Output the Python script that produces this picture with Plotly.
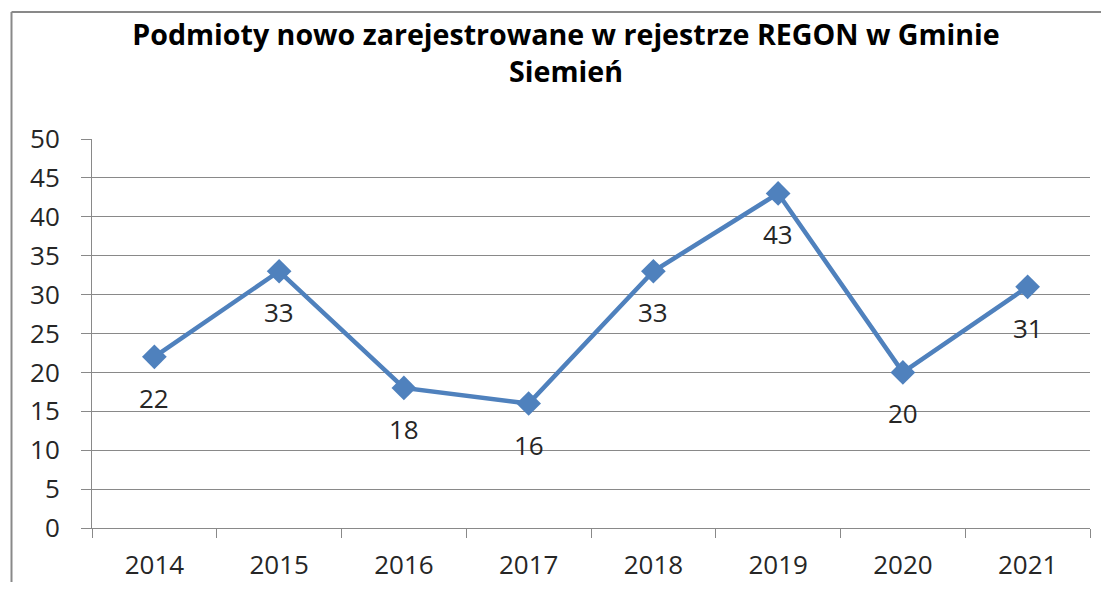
import plotly.graph_objects as go

years = ["2014", "2015", "2016", "2017", "2018", "2019", "2020", "2021"]
values = [22, 33, 18, 16, 33, 43, 20, 31]
y_ticks = [0, 5, 10, 15, 20, 25, 30, 35, 40, 45, 50]

BLUE = "#4F81BD"
GRAY = "#898989"
FONT = "Open Sans"
TXT = "#262626"

# page body has an 8px margin, so the figure starts at (8, 8) on screen
OFF = 8
W, H = 1109 - 2 * OFF, 590 - 2 * OFF
# plot area on screen: x 92..1090, y 139..528
L, T = 92 - OFF, 139 - OFF
R, B = W - (1090 - OFF), H - (528 - OFF)
pw, ph = W - L - R, H - T - B

def px_x(p):  # screen px -> paper x
    return (p - OFF - L) / pw

def px_y(p):  # screen px -> paper y
    return 1 - (p - OFF - T) / ph

fig = go.Figure()
fig.add_trace(go.Scatter(
    x=years, y=values, mode="lines+markers",
    line=dict(color=BLUE, width=4.5),
    marker=dict(symbol="diamond", size=19, color=BLUE),
    hoverinfo="x+y", showlegend=False,
))

for i, v in enumerate(values):
    fig.add_annotation(x=i, y=v, xref="x", yref="y", text=str(v),
                       showarrow=False, yshift=-41,
                       font=dict(family=FONT, size=26, color=TXT))

# chart outer border (left and top visible)
fig.add_shape(type="line", xref="paper", yref="paper",
              x0=px_x(11.5), x1=px_x(11.5), y0=px_y(12), y1=px_y(600),
              line=dict(color=GRAY, width=2))
fig.add_shape(type="line", xref="paper", yref="paper",
              x0=px_x(11.5), x1=px_x(1120), y0=px_y(12), y1=px_y(12),
              line=dict(color=GRAY, width=2))

fig.update_layout(
    width=W, height=H,
    margin=dict(l=L, r=R, t=T, b=B, autoexpand=False),
    paper_bgcolor="white", plot_bgcolor="white",
    font=dict(family=FONT, color=TXT),
    title=dict(text="<b>Podmioty nowo zarejestrowane w rejestrze REGON w Gminie<br>Siemień</b>",
               x=(566 - OFF) / W, xref="container", xanchor="center",
               y=1 - (37 - OFF + 8) / H, yref="container", yanchor="top",
               font=dict(family=FONT, size=28.6, color="black")),
    xaxis=dict(type="category", range=[-0.5, 7.5], tickson="boundaries",
               ticks="outside", ticklen=9, tickcolor=GRAY, tickwidth=1,
               showline=True, linecolor=GRAY, linewidth=1, showgrid=False,
               ticklabelstandoff=14, automargin=False,
               tickfont=dict(family=FONT, size=26, color=TXT),
               fixedrange=True),
    yaxis=dict(range=[0, 50], tickvals=y_ticks, ticks="outside", ticklen=10,
               tickcolor=GRAY, tickwidth=1, showline=True, linecolor=GRAY,
               linewidth=1, showgrid=True, gridcolor=GRAY, gridwidth=1,
               zeroline=False, ticklabelstandoff=16, automargin=False,
               tickfont=dict(family=FONT, size=26, color=TXT),
               fixedrange=True),
)

fig.write_html("out.html")
